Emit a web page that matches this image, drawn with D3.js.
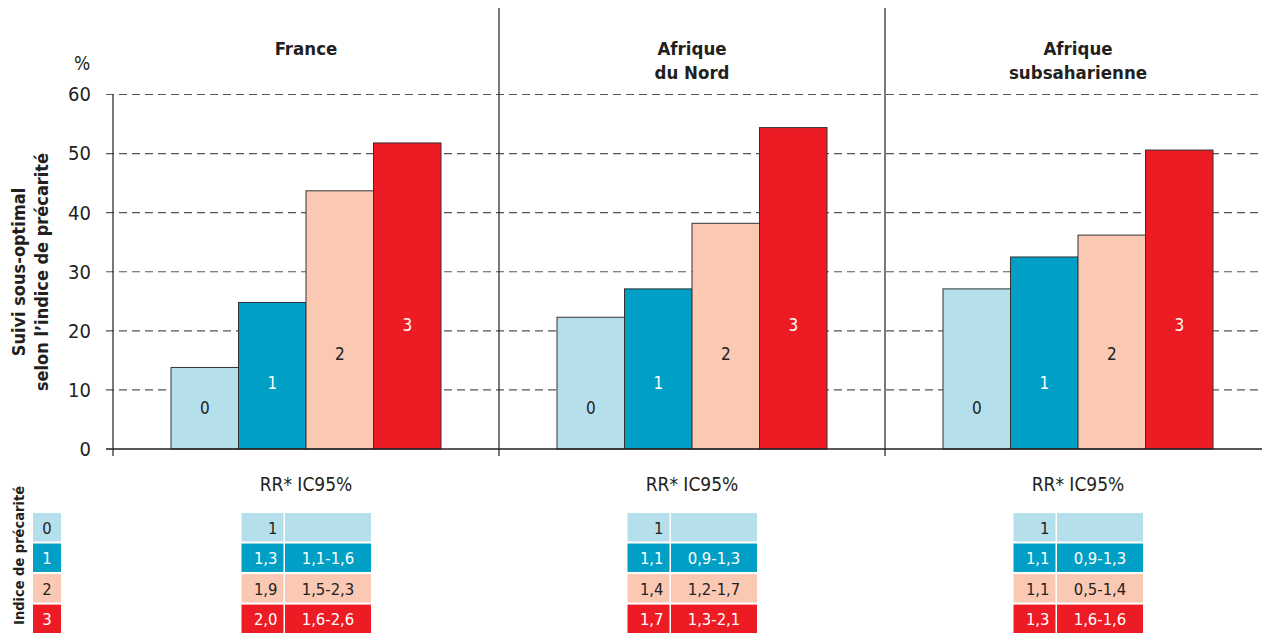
<!DOCTYPE html>
<html>
<head>
<meta charset="utf-8">
<script src="https://cdn.jsdelivr.net/npm/d3@7"></script>
<style>
  body { margin: 0; background: #fff; }
  svg { display: block; font-family: "DejaVu Sans Condensed", "Liberation Sans", sans-serif; }
</style>
</head>
<body>
<svg id="chart" width="1264" height="636"></svg>
<script>
// data
var regions = ["France", "Afrique du Nord", "Afrique subsaharienne"];
var titleLines = [["France"], ["Afrique", "du Nord"], ["Afrique", "subsaharienne"]];
var levels = ["0", "1", "2", "3"];

var france = [13.8, 24.8, 43.7, 51.8];
var afriqueNord = [22.3, 27.1, 38.2, 54.4];
var subsaharienne = [27.1, 32.5, 36.2, 50.6];

var rrFrance = ["1", "1,3", "1,9", "2,0"];
var icFrance = ["", "1,1-1,6", "1,5-2,3", "1,6-2,6"];
var rrNord = ["1", "1,1", "1,4", "1,7"];
var icNord = ["", "0,9-1,3", "1,2-1,7", "1,3-2,1"];
var rrSub = ["1", "1,1", "1,1", "1,3"];
var icSub = ["", "0,9-1,3", "0,5-1,4", "1,6-1,6"];

var yTicks = [0, 10, 20, 30, 40, 50, 60];

var values = [france, afriqueNord, subsaharienne];
var rr = [rrFrance, rrNord, rrSub];
var ic = [icFrance, icNord, icSub];

// styles
var fills = ["#b6dfec", "#00a0c6", "#fbc8b4", "#ed1c24"];
var inkOn = ["#222", "#fff", "#222", "#fff"];
var labelAt = [6.9, 11.2, 16.1, 21.0]; // where the bar numbers sit, in % units
var ink = "#231f20";

var svg = d3.select("#chart");

var y = d3.scaleLinear().domain([0, 60]).range([449, 94.5]);
var xPanel = d3.scaleBand().domain(regions).range([113, 1271]);
var xBar = d3.scaleBand().domain(levels).range([58, 328]);

// dashed grid
svg.append("g")
    .selectAll("line")
    .data(yTicks.filter(function(d) { return d > 0; }))
    .enter().append("line")
    .attr("x1", 106).attr("x2", 1262)
    .attr("y1", function(d) { return y(d); })
    .attr("y2", function(d) { return y(d); })
    .attr("stroke", "#555")
    .attr("stroke-width", 1.2)
    .attr("stroke-dasharray", "8,5");

// y axis labels
var yAxis = svg.append("g")
    .attr("transform", "translate(113,0)")
    .call(d3.axisLeft(y).tickValues(yTicks).tickSize(0).tickPadding(22));
yAxis.select(".domain").remove();
yAxis.selectAll("text")
    .attr("font-family", "DejaVu Sans Condensed, sans-serif")
    .attr("font-size", 20)
    .attr("fill", ink);

svg.append("text")
    .attr("x", 82).attr("y", 70)
    .attr("text-anchor", "middle")
    .attr("font-size", 19)
    .attr("fill", ink)
    .text("%");

svg.append("text")
    .attr("transform", "translate(0,272) rotate(-90)")
    .attr("text-anchor", "middle")
    .attr("font-weight", "bold")
    .attr("font-size", 18)
    .attr("fill", ink)
    .selectAll("tspan")
    .data(["Suivi sous-optimal", "selon l\u2019indice de précarité"])
    .enter().append("tspan")
    .attr("x", 0)
    .attr("y", function(d, i) { return 25 + i * 23; })
    .text(function(d) { return d; });

// panels
var panel = svg.selectAll(".panel")
    .data(regions)
    .enter().append("g")
    .attr("class", "panel")
    .attr("transform", function(d) { return "translate(" + xPanel(d) + ",0)"; });

panel.append("text")
    .attr("text-anchor", "middle")
    .attr("font-weight", "bold")
    .attr("font-size", 18.5)
    .attr("fill", ink)
    .selectAll("tspan")
    .data(function(d, i) { return titleLines[i]; })
    .enter().append("tspan")
    .attr("x", xPanel.bandwidth() / 2)
    .attr("y", function(d, i) { return 55 + i * 24; })
    .text(function(d) { return d; });

var bar = panel.selectAll(".bar")
    .data(function(d, i) {
      return values[i].map(function(v, j) { return {level: levels[j], value: v, j: j}; });
    })
    .enter().append("g")
    .attr("class", "bar");

bar.append("rect")
    .attr("x", function(d) { return xBar(d.level); })
    .attr("width", xBar.bandwidth())
    .attr("y", function(d) { return y(d.value); })
    .attr("height", function(d) { return y(0) - y(d.value); })
    .attr("fill", function(d) { return fills[d.j]; })
    .attr("stroke", "#333")
    .attr("stroke-width", 1);

bar.append("text")
    .attr("x", function(d) { return xBar(d.level) + xBar.bandwidth() / 2; })
    .attr("y", function(d) { return y(labelAt[d.j]); })
    .attr("dy", "0.35em")
    .attr("text-anchor", "middle")
    .attr("font-size", 17)
    .attr("fill", function(d) { return inkOn[d.j]; })
    .text(function(d) { return d.level; });

panel.append("text")
    .attr("x", xPanel.bandwidth() / 2)
    .attr("y", 491)
    .attr("text-anchor", "middle")
    .attr("font-size", 19)
    .attr("fill", ink)
    .text("RR* IC95%");

// RR table under each panel
var rowY = d3.scaleBand().domain(levels).range([513, 633]).paddingInner(0.07);

var row = panel.selectAll(".row")
    .data(function(d, i) {
      return levels.map(function(l, j) { return {level: l, rr: rr[i][j], ic: ic[i][j], j: j}; });
    })
    .enter().append("g")
    .attr("class", "row")
    .attr("transform", function(d) { return "translate(" + (xPanel.bandwidth() / 2 - 64.5) + "," + rowY(d.level) + ")"; });

row.append("rect")
    .attr("width", 42).attr("height", rowY.bandwidth())
    .attr("fill", function(d) { return fills[d.j]; });
row.append("rect")
    .attr("x", 43.5).attr("width", 86).attr("height", rowY.bandwidth())
    .attr("fill", function(d) { return fills[d.j]; });
row.append("text")
    .attr("x", 36).attr("y", 20.5)
    .attr("text-anchor", "end")
    .attr("font-size", 16.5)
    .attr("fill", function(d) { return inkOn[d.j]; })
    .text(function(d) { return d.rr; });
row.append("text")
    .attr("x", 43.5 + 43).attr("y", 20.5)
    .attr("text-anchor", "middle")
    .attr("font-size", 16.5)
    .attr("fill", function(d) { return inkOn[d.j]; })
    .text(function(d) { return d.ic; });

// legend column at far left
var key = svg.selectAll(".key")
    .data(levels)
    .enter().append("g")
    .attr("class", "key")
    .attr("transform", function(d) { return "translate(33," + rowY(d) + ")"; });
key.append("rect")
    .attr("width", 28).attr("height", rowY.bandwidth())
    .attr("fill", function(d, i) { return fills[i]; });
key.append("text")
    .attr("x", 14).attr("y", 20.5)
    .attr("text-anchor", "middle")
    .attr("font-size", 16.5)
    .attr("fill", function(d, i) { return inkOn[i]; })
    .text(function(d) { return d; });

svg.append("text")
    .attr("transform", "translate(24,486) rotate(-90)")
    .attr("text-anchor", "end")
    .attr("font-weight", "bold")
    .attr("font-size", 14.5)
    .attr("fill", ink)
    .text("Indice de précarité");

// axis line, dividers and baseline
svg.append("line")
    .attr("x1", 113).attr("x2", 113)
    .attr("y1", y(60)).attr("y2", 456)
    .attr("stroke", ink).attr("stroke-width", 1.2);

svg.selectAll(".divider")
    .data(regions.slice(1))
    .enter().append("line")
    .attr("class", "divider")
    .attr("x1", function(d) { return xPanel(d); })
    .attr("x2", function(d) { return xPanel(d); })
    .attr("y1", 8).attr("y2", 456)
    .attr("stroke", ink).attr("stroke-width", 1.2);

svg.append("line")
    .attr("x1", 106).attr("x2", 1262)
    .attr("y1", y(0)).attr("y2", y(0))
    .attr("stroke", ink).attr("stroke-width", 1.5);
</script>
</body>
</html>
